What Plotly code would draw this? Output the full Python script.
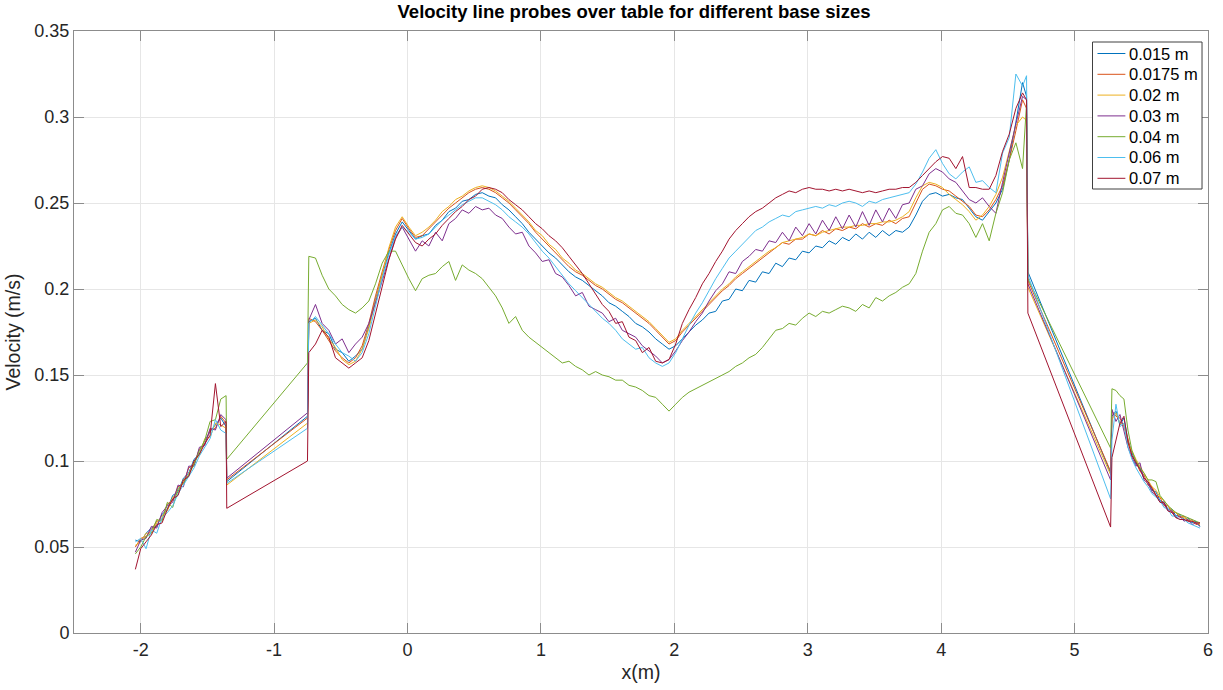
import numpy as np
import plotly.graph_objects as go

# Probe sample positions (m) for the three table sections
xa = np.round(-2.04 + 0.04 * np.arange(18), 2)      # upstream ramp
xm = np.round(-0.74 + 0.05 * np.arange(108), 2)     # main table section
xc = np.round(5.28 + 0.03 * np.arange(23), 2)       # downstream section
x_jump = -1.355      # first gap start
x_link = -0.75       # first gap end
x_peak = 4.64        # last main-section sample
x_drop = 4.65        # second gap start
x_gap = 5.27         # second gap end

labels = ["0.015 m", "0.0175 m", "0.02 m", "0.03 m", "0.04 m", "0.06 m", "0.07 m"]
colors = ["#0072BD", "#D95319", "#EDB120", "#7E2F8E", "#77AC30", "#4DBEEE", "#A2142F"]

x_ticks = [-2, -1, 0, 1, 2, 3, 4, 5, 6]
x_ticktext = ["-2", "-1", "0", "1", "2", "3", "4", "5", "6"]
y_ticks = [0, 0.05, 0.1, 0.15, 0.2, 0.25, 0.3, 0.35]
y_ticktext = ["0", "0.05", "0.1", "0.15", "0.2", "0.25", "0.3", "0.35"]

# Velocity (m/s) along the upstream ramp
a_015 = [0.054, 0.053, 0.058, 0.061, 0.062, 0.069, 0.072, 0.080, 0.082, 0.090, 0.093, 0.101, 0.104, 0.112, 0.117, 0.121, 0.125, 0.120]
a_0175 = [0.050, 0.055, 0.056, 0.060, 0.065, 0.066, 0.075, 0.077, 0.085, 0.087, 0.096, 0.098, 0.107, 0.110, 0.118, 0.119, 0.126, 0.122]
a_02 = [0.051, 0.053, 0.058, 0.058, 0.064, 0.068, 0.071, 0.079, 0.081, 0.089, 0.092, 0.100, 0.103, 0.113, 0.114, 0.122, 0.121, 0.119]
a_03 = [0.047, 0.054, 0.055, 0.062, 0.061, 0.070, 0.074, 0.076, 0.086, 0.085, 0.097, 0.097, 0.108, 0.109, 0.119, 0.118, 0.127, 0.124]
a_04 = [0.046, 0.050, 0.056, 0.058, 0.066, 0.065, 0.076, 0.073, 0.084, 0.087, 0.092, 0.098, 0.106, 0.112, 0.123, 0.124, 0.136, 0.138]
a_06 = [0.053, 0.055, 0.049, 0.060, 0.058, 0.067, 0.070, 0.074, 0.081, 0.086, 0.091, 0.096, 0.103, 0.108, 0.113, 0.124, 0.118, 0.116]
a_07 = [0.037, 0.049, 0.053, 0.057, 0.063, 0.064, 0.072, 0.078, 0.080, 0.089, 0.091, 0.100, 0.104, 0.110, 0.115, 0.145, 0.120, 0.123]

# Values at the gap ends
jump_low = [0.088, 0.089, 0.086, 0.090, 0.101, 0.087, 0.0725]
link_end = [0.126, 0.125, 0.122, 0.128, 0.157, 0.119, 0.100]
peak_end = [0.312, 0.305, 0.298, 0.310, 0.308, 0.324, 0.310]
drop_top = [0.210, 0.205, 0.201, 0.203, 0.206, 0.208, 0.186]
gap_low = [0.093, 0.094, 0.092, 0.089, 0.1075, 0.078, 0.0616]

# Velocity (m/s) along the main table section
m_015 = [0.181, 0.183, 0.176, 0.174, 0.165, 0.163, 0.158, 0.161, 0.165, 0.178,
         0.194, 0.208, 0.221, 0.232, 0.239, 0.234, 0.229, 0.231, 0.232, 0.237,
         0.240, 0.245, 0.247, 0.251, 0.252, 0.255, 0.256, 0.254, 0.253, 0.249,
         0.246, 0.242, 0.238, 0.233, 0.229, 0.225, 0.221, 0.218, 0.214, 0.210,
         0.207, 0.205, 0.202, 0.199, 0.196, 0.192, 0.190, 0.187, 0.184, 0.180,
         0.178, 0.175, 0.171, 0.168, 0.165, 0.167, 0.171, 0.175, 0.179, 0.182,
         0.186, 0.187, 0.193, 0.194, 0.200, 0.199, 0.205, 0.204, 0.210, 0.209,
         0.215, 0.213, 0.218, 0.217, 0.222, 0.221, 0.225, 0.224, 0.228, 0.226,
         0.230, 0.228, 0.232, 0.229, 0.233, 0.230, 0.234, 0.231, 0.234, 0.233,
         0.236, 0.243, 0.251, 0.255, 0.256, 0.254, 0.255, 0.253, 0.252, 0.247,
         0.242, 0.240, 0.245, 0.250, 0.258, 0.275, 0.297, 0.320]
m_0175 = [0.183, 0.181, 0.176, 0.170, 0.164, 0.160, 0.157, 0.160, 0.167, 0.180,
          0.196, 0.210, 0.223, 0.234, 0.241, 0.235, 0.230, 0.231, 0.235, 0.239,
          0.243, 0.247, 0.250, 0.253, 0.256, 0.258, 0.259, 0.258, 0.256, 0.253,
          0.250, 0.246, 0.242, 0.238, 0.233, 0.229, 0.225, 0.221, 0.217, 0.213,
          0.210, 0.208, 0.205, 0.202, 0.200, 0.197, 0.194, 0.192, 0.189, 0.186,
          0.183, 0.180, 0.176, 0.172, 0.168, 0.170, 0.175, 0.179, 0.183, 0.187,
          0.191, 0.195, 0.199, 0.202, 0.206, 0.209, 0.212, 0.215, 0.218, 0.221,
          0.224, 0.227, 0.226, 0.229, 0.229, 0.232, 0.231, 0.234, 0.232, 0.235,
          0.234, 0.236, 0.235, 0.238, 0.236, 0.238, 0.237, 0.240, 0.238, 0.241,
          0.242, 0.250, 0.258, 0.261, 0.260, 0.258, 0.257, 0.254, 0.251, 0.248,
          0.243, 0.242, 0.246, 0.252, 0.260, 0.275, 0.292, 0.310]
m_02 = [0.180, 0.182, 0.178, 0.171, 0.166, 0.159, 0.156, 0.158, 0.165, 0.177,
        0.193, 0.209, 0.224, 0.236, 0.242, 0.236, 0.231, 0.233, 0.236, 0.240,
        0.245, 0.248, 0.252, 0.254, 0.257, 0.259, 0.260, 0.259, 0.257, 0.254,
        0.251, 0.247, 0.243, 0.239, 0.234, 0.231, 0.226, 0.223, 0.218, 0.215,
        0.211, 0.209, 0.206, 0.203, 0.201, 0.198, 0.195, 0.193, 0.190, 0.187,
        0.184, 0.181, 0.177, 0.173, 0.169, 0.171, 0.176, 0.180, 0.184, 0.188,
        0.192, 0.196, 0.200, 0.203, 0.207, 0.210, 0.213, 0.216, 0.219, 0.222,
        0.224, 0.227, 0.228, 0.229, 0.230, 0.232, 0.231, 0.233, 0.234, 0.235,
        0.236, 0.236, 0.237, 0.237, 0.238, 0.238, 0.239, 0.239, 0.240, 0.242,
        0.245, 0.253, 0.260, 0.262, 0.261, 0.259, 0.255, 0.252, 0.249, 0.245,
        0.240, 0.243, 0.248, 0.255, 0.265, 0.280, 0.295, 0.300]
m_03 = [0.182, 0.191, 0.180, 0.176, 0.168, 0.171, 0.163, 0.168, 0.172, 0.180,
        0.192, 0.205, 0.218, 0.230, 0.236, 0.229, 0.222, 0.228, 0.225, 0.233,
        0.228, 0.238, 0.241, 0.246, 0.244, 0.248, 0.246, 0.247, 0.243, 0.241,
        0.236, 0.232, 0.233, 0.225, 0.221, 0.216, 0.217, 0.209, 0.207, 0.202,
        0.196, 0.198, 0.190, 0.188, 0.186, 0.181, 0.183, 0.176, 0.174, 0.172,
        0.167, 0.164, 0.161, 0.157, 0.159, 0.164, 0.170, 0.175, 0.181, 0.186,
        0.193, 0.199, 0.203, 0.210, 0.209, 0.216, 0.219, 0.223, 0.222, 0.228,
        0.227, 0.233, 0.228, 0.236, 0.231, 0.238, 0.232, 0.240, 0.234, 0.242,
        0.235, 0.243, 0.236, 0.245, 0.237, 0.246, 0.239, 0.247, 0.241, 0.249,
        0.250, 0.258, 0.260, 0.267, 0.270, 0.268, 0.264, 0.262, 0.257, 0.252,
        0.250, 0.253, 0.248, 0.244, 0.262, 0.280, 0.296, 0.312]
m_04 = [0.219, 0.218, 0.208, 0.200, 0.196, 0.191, 0.188, 0.186, 0.189, 0.193,
        0.203, 0.215, 0.222, 0.222, 0.214, 0.206, 0.199, 0.206, 0.208, 0.209,
        0.213, 0.216, 0.205, 0.214, 0.211, 0.209, 0.206, 0.201, 0.196, 0.189,
        0.180, 0.184, 0.176, 0.172, 0.169, 0.166, 0.163, 0.160, 0.157, 0.158,
        0.155, 0.153, 0.150, 0.152, 0.150, 0.149, 0.147, 0.147, 0.144, 0.143,
        0.141, 0.138, 0.137, 0.133, 0.129, 0.133, 0.137, 0.140, 0.142, 0.144,
        0.146, 0.148, 0.150, 0.152, 0.155, 0.157, 0.160, 0.162, 0.166, 0.171,
        0.176, 0.177, 0.180, 0.179, 0.183, 0.186, 0.184, 0.187, 0.186, 0.188,
        0.190, 0.189, 0.187, 0.191, 0.189, 0.195, 0.193, 0.196, 0.198, 0.201,
        0.203, 0.209, 0.222, 0.233, 0.238, 0.246, 0.248, 0.244, 0.243, 0.238,
        0.230, 0.238, 0.228, 0.244, 0.256, 0.275, 0.285, 0.270]
m_06 = [0.180, 0.184, 0.179, 0.174, 0.168, 0.163, 0.161, 0.158, 0.163, 0.174,
        0.190, 0.206, 0.220, 0.231, 0.236, 0.233, 0.229, 0.230, 0.232, 0.236,
        0.240, 0.243, 0.246, 0.249, 0.251, 0.253, 0.253, 0.251, 0.249, 0.246,
        0.242, 0.239, 0.236, 0.232, 0.227, 0.222, 0.218, 0.213, 0.208, 0.203,
        0.199, 0.195, 0.191, 0.187, 0.183, 0.180, 0.176, 0.171, 0.168, 0.165,
        0.166, 0.160, 0.157, 0.155, 0.157, 0.163, 0.171, 0.179, 0.186, 0.192,
        0.199, 0.206, 0.212, 0.218, 0.222, 0.226, 0.230, 0.234, 0.236, 0.239,
        0.241, 0.243, 0.242, 0.245, 0.246, 0.247, 0.248, 0.247, 0.249, 0.248,
        0.250, 0.251, 0.250, 0.248, 0.251, 0.250, 0.252, 0.253, 0.254, 0.255,
        0.256, 0.261, 0.268, 0.276, 0.281, 0.273, 0.267, 0.264, 0.268, 0.271,
        0.262, 0.263, 0.259, 0.256, 0.279, 0.288, 0.325, 0.318]
m_07 = [0.163, 0.168, 0.176, 0.172, 0.160, 0.157, 0.154, 0.157, 0.160, 0.170,
        0.186, 0.202, 0.217, 0.229, 0.237, 0.232, 0.227, 0.225, 0.229, 0.232,
        0.237, 0.241, 0.245, 0.248, 0.252, 0.254, 0.258, 0.259, 0.258, 0.256,
        0.252, 0.249, 0.246, 0.242, 0.238, 0.235, 0.231, 0.228, 0.224, 0.219,
        0.214, 0.209, 0.203, 0.197, 0.191, 0.187, 0.180, 0.181, 0.172, 0.170,
        0.163, 0.166, 0.158, 0.157, 0.159, 0.168, 0.180, 0.188, 0.195, 0.203,
        0.209, 0.216, 0.222, 0.229, 0.234, 0.238, 0.242, 0.245, 0.247, 0.250,
        0.253, 0.255, 0.257, 0.256, 0.258, 0.259, 0.258, 0.258, 0.257, 0.258,
        0.257, 0.258, 0.257, 0.256, 0.257, 0.256, 0.257, 0.258, 0.258, 0.259,
        0.259, 0.262, 0.266, 0.270, 0.274, 0.277, 0.276, 0.270, 0.277, 0.259,
        0.259, 0.258, 0.258, 0.266, 0.280, 0.290, 0.305, 0.314]

# Velocity (m/s) along the downstream section
c_015 = [0.126, 0.129, 0.121, 0.125, 0.112, 0.105, 0.098, 0.096, 0.090, 0.088, 0.083, 0.082, 0.077, 0.076, 0.072, 0.072, 0.068, 0.069, 0.066, 0.067, 0.064, 0.065, 0.062]
c_0175 = [0.129, 0.126, 0.125, 0.120, 0.113, 0.103, 0.100, 0.094, 0.092, 0.086, 0.085, 0.080, 0.079, 0.074, 0.074, 0.070, 0.070, 0.067, 0.068, 0.065, 0.066, 0.063, 0.064]
c_02 = [0.124, 0.128, 0.122, 0.121, 0.110, 0.106, 0.101, 0.097, 0.093, 0.089, 0.085, 0.083, 0.079, 0.077, 0.074, 0.071, 0.070, 0.068, 0.067, 0.066, 0.065, 0.064, 0.063]
c_03 = [0.130, 0.123, 0.127, 0.117, 0.108, 0.102, 0.097, 0.099, 0.089, 0.087, 0.082, 0.080, 0.076, 0.075, 0.071, 0.071, 0.067, 0.068, 0.065, 0.066, 0.063, 0.064, 0.062]
c_04 = [0.142, 0.141, 0.138, 0.136, 0.118, 0.106, 0.100, 0.096, 0.093, 0.089, 0.089, 0.088, 0.080, 0.077, 0.074, 0.072, 0.070, 0.069, 0.068, 0.067, 0.066, 0.065, 0.064]
c_06 = [0.112, 0.133, 0.120, 0.122, 0.108, 0.101, 0.096, 0.092, 0.088, 0.085, 0.081, 0.079, 0.077, 0.073, 0.072, 0.068, 0.068, 0.066, 0.066, 0.064, 0.063, 0.062, 0.061]
c_07 = [0.102, 0.112, 0.122, 0.126, 0.111, 0.103, 0.099, 0.095, 0.090, 0.088, 0.084, 0.080, 0.076, 0.076, 0.071, 0.070, 0.067, 0.066, 0.066, 0.065, 0.065, 0.064, 0.064]

ramp = [a_015, a_0175, a_02, a_03, a_04, a_06, a_07]
main = [m_015, m_0175, m_02, m_03, m_04, m_06, m_07]
down = [c_015, c_0175, c_02, c_03, c_04, c_06, c_07]

x_all = np.concatenate([xa, [x_jump, x_link], xm, [x_peak, x_drop, x_gap], xc])

fig = go.Figure()
for i, name in enumerate(labels):
    y_all = (list(ramp[i]) + [jump_low[i], link_end[i]] + list(main[i])
             + [peak_end[i], drop_top[i], gap_low[i]] + list(down[i]))
    fig.add_trace(go.Scatter(
        x=x_all, y=y_all, mode="lines", name=name,
        line=dict(color=colors[i], width=1),
    ))

# Plot area in pixels
W, H = 1223, 690
L, R, T, B = 74, 10, 31, 57
pw, ph = W - L - R, H - T - B


def px(xp):
    return (xp - L) / pw


def py(yp):
    return (H - B - yp) / ph


font_family = "Liberation Sans, Arial, Helvetica, sans-serif"

# Boxed legend in the upper right corner
box_l, box_r, box_t, box_b = 1097, 1207, 42, 189
row0, row_step = 53.5, 20.8
shapes = [dict(type="rect", xref="paper", yref="paper",
               x0=px(box_l), x1=px(box_r), y0=py(box_b), y1=py(box_t),
               line=dict(color="#404040", width=1), fillcolor="white", layer="above")]
annotations = []
for i, name in enumerate(labels):
    yc = row0 + i * row_step
    shapes.append(dict(type="line", xref="paper", yref="paper",
                       x0=px(1102), x1=px(1130), y0=py(yc), y1=py(yc),
                       line=dict(color=colors[i], width=1), layer="above"))
    annotations.append(dict(xref="paper", yref="paper", x=px(1132), y=py(yc),
                            xanchor="left", yanchor="middle", text=name, showarrow=False,
                            font=dict(family=font_family, size=16.5, color="#000000")))

axis_style = dict(
    showline=True, linecolor="#8c8c8c", linewidth=1, mirror="ticks",
    ticks="inside", ticklen=10, tickcolor="#8c8c8c", tickwidth=1,
    showgrid=True, gridcolor="#e6e6e6", gridwidth=1, zeroline=False,
    tickfont=dict(family=font_family, size=18, color="#262626"),
)

fig.update_layout(
    width=W, height=H,
    paper_bgcolor="white", plot_bgcolor="white",
    margin=dict(l=L, r=R, t=T, b=B),
    title=dict(
        text="<b>Velocity line probes over table for different base sizes</b>",
        x=634 / W, xanchor="center",
        y=1 - 12 / H, yanchor="middle", yref="container",
        font=dict(family=font_family, size=18.5, color="#000000"),
    ),
    xaxis=dict(range=[-2.5, 6], tickvals=x_ticks, ticktext=x_ticktext,
               title=dict(text="x(m)", standoff=6,
                          font=dict(family=font_family, size=19.5, color="#262626")),
               **axis_style),
    yaxis=dict(range=[0, 0.35], tickvals=y_ticks, ticktext=y_ticktext,
               title=dict(text="Velocity (m/s)", standoff=8,
                          font=dict(family=font_family, size=19.5, color="#262626")),
               **axis_style),
    shapes=shapes,
    annotations=annotations,
    showlegend=False,
)

fig.write_html("out.html")
